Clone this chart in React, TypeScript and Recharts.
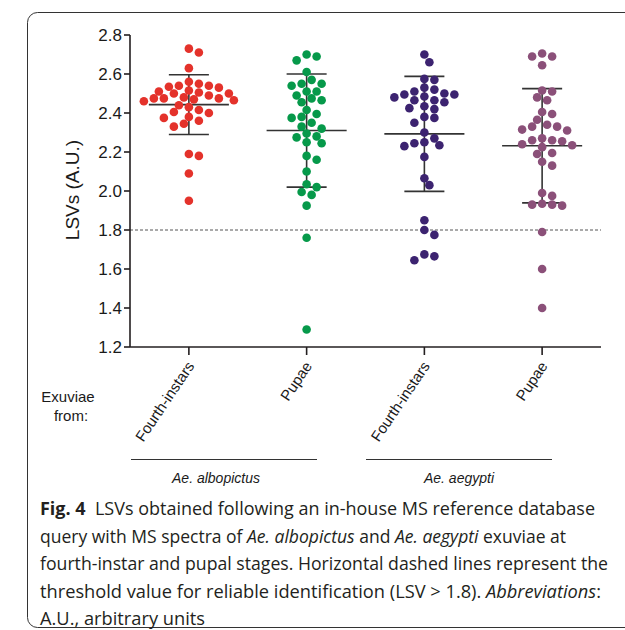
import React from 'react';
import { ScatterChart, Scatter, XAxis, YAxis, ReferenceLine } from 'recharts';

const categories = ['Fourth-instars', 'Pupae', 'Fourth-instars', 'Pupae'];
const species = ['Ae. albopictus', 'Ae. aegypti'];
const colors = ['#e4322b', '#06994a', '#3c2370', '#8b5079'];

const albopictusL4 = [2.73, 2.71, 2.63, 2.56, 2.55, 2.54, 2.535, 2.54, 2.53, 2.51, 2.5, 2.5, 2.505, 2.515, 2.49, 2.475, 2.475, 2.47, 2.475, 2.48, 2.465, 2.46, 2.44, 2.43, 2.415, 2.4, 2.405, 2.375, 2.38, 2.345, 2.33, 2.36, 2.18, 2.19, 2.09, 1.95];
const albopictusPupae = [2.69, 2.7, 2.67, 2.61, 2.55, 2.54, 2.57, 2.55, 2.51, 2.51, 2.475, 2.49, 2.455, 2.465, 2.415, 2.38, 2.35, 2.375, 2.395, 2.32, 2.33, 2.295, 2.28, 2.25, 2.245, 2.275, 2.16, 2.18, 2.1, 2.035, 2.02, 1.995, 1.98, 1.925, 1.76, 1.29];
const aegyptiL4 = [2.7, 2.66, 2.575, 2.57, 2.53, 2.51, 2.52, 2.48, 2.495, 2.495, 2.5, 2.465, 2.465, 2.485, 2.455, 2.425, 2.435, 2.42, 2.38, 2.375, 2.35, 2.3, 2.27, 2.25, 2.235, 2.23, 2.245, 2.175, 2.065, 2.03, 1.85, 1.8, 1.775, 1.675, 1.645, 1.665];
const aegyptiPupae = [2.69, 2.705, 2.69, 2.645, 2.51, 2.515, 2.465, 2.48, 2.395, 2.405, 2.365, 2.34, 2.33, 2.33, 2.31, 2.315, 2.27, 2.26, 2.255, 2.26, 2.24, 2.225, 2.235, 2.19, 2.195, 2.15, 2.13, 1.99, 1.975, 1.935, 1.93, 1.925, 1.93, 1.79, 1.6, 1.4];

const groups = [albopictusL4, albopictusPupae, aegyptiL4, aegyptiPupae];
const means = [2.443, 2.31, 2.293, 2.232];
const sds = [0.153, 0.29, 0.295, 0.293];
const yTicks = [1.2, 1.4, 1.6, 1.8, 2.0, 2.2, 2.4, 2.6, 2.8];
const threshold = 1.8;

const captionLines = [
  [{ t: 'Fig. 4', b: true }, { t: '  LSVs obtained following an in-house MS reference database' }],
  [{ t: 'query with MS spectra of ' }, { t: 'Ae. albopictus', i: true }, { t: ' and ' }, { t: 'Ae. aegypti', i: true }, { t: ' exuviae at' }],
  [{ t: 'fourth-instar and pupal stages. Horizontal dashed lines represent the' }],
  [{ t: 'threshold value for reliable identification (LSV > 1.8). ' }, { t: 'Abbreviations', i: true }, { t: ':' }],
  [{ t: 'A.U., arbitrary units' }],
];
const captionWidths = [555, 526, 568, 561, 165];

const PLOT_H = 312;
const pxPerUnit = PLOT_H / (2.8 - 1.2);

function swarm(values: number[]) {
  const order = values.map((_, i) => i).sort((a, b) => values[b] - values[a]);
  const placed: { x: number; y: number }[] = [];
  const offs = new Array(values.length).fill(0);
  const cands = [0];
  for (let k = 1; k <= 10; k++) cands.push(k * 5, -k * 5);
  for (const i of order) {
    const y = values[i] * pxPerUnit;
    for (const c of cands) {
      if (placed.every((p) => Math.hypot(p.x - c, p.y - y) >= 8.4)) {
        offs[i] = c;
        placed.push({ x: c, y });
        break;
      }
    }
  }
  return offs;
}

const FONT = '"Liberation Sans", Arial, sans-serif';

const XTick = (props: any) => {
  const { x, y, payload } = props;
  return (
    <text
      x={0}
      y={0}
      transform={`translate(${x + 6},${y + 9}) rotate(-56)`}
      textAnchor="end"
      fontSize={15}
      fontFamily={FONT}
      fill="#1a1a1a"
    >
      {categories[payload.value]}
    </text>
  );
};

export default function App() {
  const seriesData = groups.map((vals, g) => {
    const offs = swarm(vals);
    return vals.map((v, i) => ({ x: g, y: v, off: offs[i] }));
  });
  const axisColor = '#231f20';
  return (
    <div style={{ position: 'absolute', left: 0, top: 0, width: 625, height: 630, overflow: 'hidden', background: '#fff' }}>
      <div style={{ position: 'absolute', left: 0, top: 0 }}>
        <ScatterChart width={625} height={500} margin={{ top: 35, right: 24, left: 70, bottom: 53 }}>
          <XAxis
            type="number"
            dataKey="x"
            domain={[-0.5, 3.5]}
            ticks={[0, 1, 2, 3]}
            allowDataOverflow
            height={100}
            tickSize={8}
            tickMargin={2}
            axisLine={{ stroke: axisColor, strokeWidth: 1.6 }}
            tickLine={{ stroke: axisColor, strokeWidth: 1.6 }}
            tick={<XTick />}
          />
          <YAxis
            type="number"
            dataKey="y"
            domain={[1.2, 2.8]}
            ticks={yTicks}
            width={60}
            tickSize={6}
            tickMargin={2}
            tickFormatter={(v: number) => v.toFixed(1)}
            axisLine={{ stroke: axisColor, strokeWidth: 1.6 }}
            tickLine={{ stroke: axisColor, strokeWidth: 1.6 }}
            tick={{ fontSize: 17, fontFamily: FONT, fill: '#1a1a1a' }}
          />
          <ReferenceLine y={threshold} stroke="#555" strokeWidth={1} strokeDasharray="3 2" />
          {seriesData.map((d, g) => (
            <Scatter
              key={g}
              data={d}
              isAnimationActive={false}
              shape={(p: any) => <circle cx={p.cx + p.payload.off} cy={p.cy} r={4.3} fill={colors[g]} />}
            />
          ))}
          {means.map((m, g) => (
            <ReferenceLine key={'m' + g} segment={[{ x: g - 0.34, y: m }, { x: g + 0.34, y: m }]} stroke="#333" strokeWidth={1.6} />
          ))}
          {means.map((m, g) => (
            <ReferenceLine key={'v' + g} segment={[{ x: g, y: m - sds[g] }, { x: g, y: m + sds[g] }]} stroke="#333" strokeWidth={1.6} />
          ))}
          {means.map((m, g) => (
            <ReferenceLine key={'u' + g} segment={[{ x: g - 0.17, y: m + sds[g] }, { x: g + 0.17, y: m + sds[g] }]} stroke="#333" strokeWidth={1.6} />
          ))}
          {means.map((m, g) => (
            <ReferenceLine key={'l' + g} segment={[{ x: g - 0.17, y: m - sds[g] }, { x: g + 0.17, y: m - sds[g] }]} stroke="#333" strokeWidth={1.6} />
          ))}
        </ScatterChart>
      </div>
      <svg width={625} height={630} style={{ position: 'absolute', left: 0, top: 0, pointerEvents: 'none' }}>
        <rect x={27.5} y={12.5} width={700} height={615} rx={10} fill="none" stroke="#333" strokeWidth={1} />
        <text transform="translate(79,190) rotate(-90)" textAnchor="middle" fontSize={19} fontFamily={FONT} fill="#1a1a1a">
          LSVs (A.U.)
        </text>
        <text x={68} y={402} textAnchor="middle" fontSize={15} fontFamily={FONT} fill="#1a1a1a">Exuviae</text>
        <text x={71} y={421} textAnchor="middle" fontSize={15} fontFamily={FONT} fill="#1a1a1a">from:</text>
        <line x1={131} x2={317} y1={459.5} y2={459.5} stroke="#333" strokeWidth={1} />
        <line x1={366} x2={552} y1={459.5} y2={459.5} stroke="#333" strokeWidth={1} />
        <text x={216} y={483} textAnchor="middle" fontSize={14} fontStyle="italic" fontFamily={FONT} fill="#1a1a1a">{species[0]}</text>
        <text x={459} y={483} textAnchor="middle" fontSize={14} fontStyle="italic" fontFamily={FONT} fill="#1a1a1a">{species[1]}</text>
        {captionLines.map((line, li) => (
          <text
            key={li}
            x={40}
            y={515 + li * 27.5}
            fontSize={18}
            fontFamily='"Open Sans", "Noto Sans", sans-serif'
            fill="#231f20"
            textLength={captionWidths[li]}
            lengthAdjust="spacingAndGlyphs"
            xmlSpace="preserve"
          >
            {line.map((s: any, si) => (
              <tspan key={si} fontWeight={s.b ? 'bold' : 'normal'} fontStyle={s.i ? 'italic' : 'normal'}>
                {s.t}
              </tspan>
            ))}
          </text>
        ))}
      </svg>
    </div>
  );
}
